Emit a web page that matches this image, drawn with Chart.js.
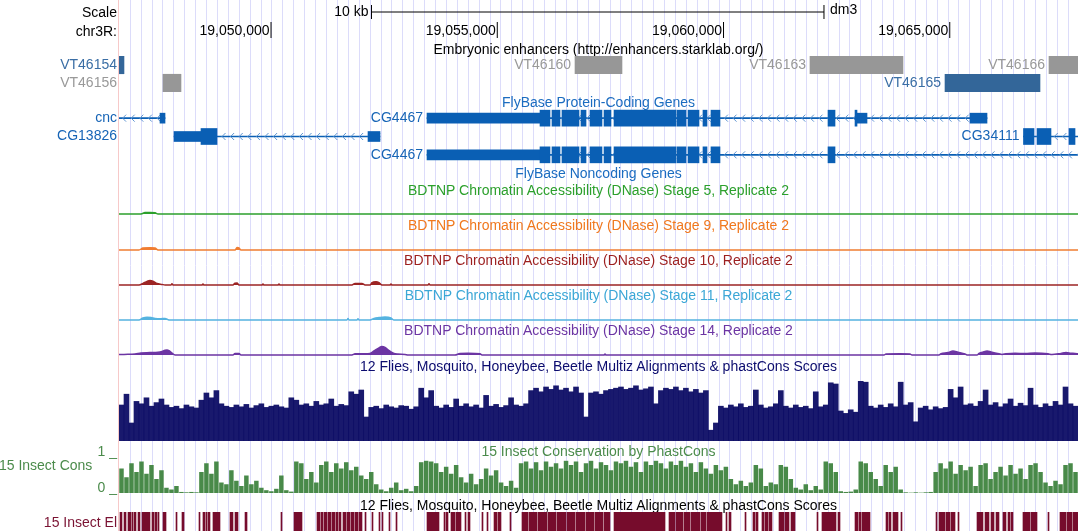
<!DOCTYPE html>
<html>
<head>
<meta charset="utf-8">
<script src="https://cdn.jsdelivr.net/npm/chart.js@4.4.1/dist/chart.umd.min.js"></script>
<style>
  html, body { margin: 0; padding: 0; background: #fff; }
  #page { position: relative; width: 1078px; height: 531px; overflow: hidden;
          font-family: "Liberation Sans", Arial, Helvetica, sans-serif; font-size: 14px; }
  #page canvas { position: absolute; left: 0; }
  .t { position: absolute; line-height: 15px; white-space: nowrap; }
  .title { left: 119px; width: 959px; text-align: center; }
  .left { right: 961px; text-align: right; }
  #edge { position: absolute; left: 118px; top: 0; width: 1px; height: 531px; background: #f7c9c9; }
</style>
</head>
<body>
<div id="page">
  <canvas id="grid" width="1078" height="531" style="top:0"></canvas>
  <div id="edge"></div>

  <div class="t left" style="top:5.4px">Scale</div>
  <div class="t left" style="top:23.6px">chr3R:</div>
  <canvas id="ruler" width="1078" height="36" style="top:3px"></canvas>

  <div class="t title" style="top:42.1px;color:#000">Embryonic enhancers (http://enhancers.starklab.org/)</div>
  <canvas id="enhancers" width="1078" height="36" style="top:56px"></canvas>

  <div class="t title" style="top:95.1px;color:#1b6cc0">FlyBase Protein-Coding Genes</div>
  <canvas id="genes" width="1078" height="55" style="top:109px"></canvas>
  <div class="t title" style="top:166.3px;color:#1b6cc0">FlyBase Noncoding Genes</div>

  <div class="t title" style="top:182.9px;color:#2ca02c">BDTNP Chromatin Accessibility (DNase) Stage 5, Replicate 2</div>
  <canvas id="dnase5" width="1078" height="22" style="top:193px"></canvas>
  <div class="t title" style="top:217.9px;color:#f0781e">BDTNP Chromatin Accessibility (DNase) Stage 9, Replicate 2</div>
  <canvas id="dnase9" width="1078" height="22" style="top:229px"></canvas>
  <div class="t title" style="top:253.3px;color:#9c1f1f">BDTNP Chromatin Accessibility (DNase) Stage 10, Replicate 2</div>
  <canvas id="dnase10" width="1078" height="22" style="top:264px"></canvas>
  <div class="t title" style="top:287.9px;color:#3ba7d6">BDTNP Chromatin Accessibility (DNase) Stage 11, Replicate 2</div>
  <canvas id="dnase11" width="1078" height="22" style="top:299px"></canvas>
  <div class="t title" style="top:322.9px;color:#6c35a3">BDTNP Chromatin Accessibility (DNase) Stage 14, Replicate 2</div>
  <canvas id="dnase14" width="1078" height="22" style="top:334px"></canvas>

  <div class="t title" style="top:359.3px;color:#0c0c6e">12 Flies, Mosquito, Honeybee, Beetle Multiz Alignments &amp; phastCons Scores</div>
  <canvas id="multiz" width="1078" height="60" style="top:381px"></canvas>

  <div class="t title" style="top:444.3px;color:#4b8b4b">15 Insect Conservation by PhastCons</div>
  <div class="t" style="top:457.9px;right:985.7px;text-align:right;color:#4b8b4b">15 Insect Cons</div>
  <div class="t left" style="top:444.3px;color:#4b8b4b">1 _</div>
  <div class="t left" style="top:480.1px;color:#4b8b4b">0 _</div>
  <canvas id="cons" width="1078" height="35" style="top:458px"></canvas>

  <div class="t title" style="top:497.6px;color:#000">12 Flies, Mosquito, Honeybee, Beetle Multiz Alignments &amp; phastCons Scores</div>
  <div class="t left" style="top:514.9px;color:#7a1232">15 Insect El</div>
  <canvas id="elements" width="1078" height="19" style="top:512px"></canvas>
</div>

<script>
const FONT = '14px "Liberation Sans", Arial, sans-serif';
const LEFT = 119;

// window shown on chr3R; feature positions below are bp offsets from viewStart
const viewStart = 19046640;
const viewEnd = 19067834;

const rulerTicks = [19050000, 19055000, 19060000, 19065000];
const scaleBar = [19052220, 19062220];

const enhancerNames = ["VT46154", "VT46156", "VT46160", "VT46163", "VT46165", "VT46166"];
const enhancerRow = ["r1", "r2", "r1", "r1", "r2", "r1"];
const enhancerStart = [-90, 972, 10078, 15271, 18255, 20553];
const enhancerEnd = [110, 1370, 11116, 17326, 20354, 22400];
const enhancerActive = [true, false, false, false, true, false];

const geneNames = ["cnc", "CG4467", "CG13826", "CG34111", "CG4467"];
const geneRow = ["g1", "g1", "g2", "g2", "g3"];
const geneSpan = [[-400, 1017], [6807, 19183], [1216, 5768], [19989, 21700], [6807, 21700]];
// [gene index, start, end]
const utrBlocks = [
  [0, 906, 1017], [1, 6807, 9304], [1, 16310, 16531], [1, 18807, 19183],
  [2, 1216, 1812], [2, 5503, 5768], [4, 6807, 9304],
];
const cdsBlocks = [
  [1, 9304, 9525], [1, 9569, 9746], [1, 9790, 10166], [1, 10210, 10321], [1, 10409, 10674],
  [1, 10719, 10873], [1, 10940, 12310], [1, 12332, 12531], [1, 12575, 12818], [1, 12906, 12995],
  [1, 13083, 13282], [1, 15669, 15824], [1, 16266, 16310],
  [2, 1812, 2166],
  [3, 19989, 20222], [3, 20288, 20597], [3, 20995, 21128],
  [4, 9304, 9525], [4, 9569, 9746], [4, 9790, 10166], [4, 10210, 10321], [4, 10409, 10674],
  [4, 10719, 10873], [4, 10940, 12310], [4, 12332, 12531], [4, 12575, 12818], [4, 12906, 12995],
  [4, 13083, 13282], [4, 15669, 15824],
];

// [offset, signal]
const dnaseStage5 = [[0, 0], [486, 0], [575, 0.7], [685, 0.8], [796, 0.6], [862, 0], [21194, 0]];
const dnaseStage9 = [[0, 0], [442, 0], [530, 1], [685, 1.1], [796, 1], [862, 0],
  [2564, 0], [2608, 1.2], [2652, 1], [2696, 0], [21194, 0]];
const dnaseStage10 = [[0, 0], [442, 0], [530, 0.8], [619, 1.8], [685, 2.2], [751, 1.9], [840, 0.8],
  [950, 0.3], [1017, 0], [1149, 0], [1171, 0.6], [1193, 0], [1834, 0], [1856, 0.5], [1878, 0],
  [2519, 0], [2564, 0.9], [2608, 1], [2652, 0], [3160, 0], [3182, 0.5], [3204, 0],
  [3514, 0], [3536, 0.5], [3558, 0], [5149, 0], [5216, 0.8], [5370, 0.8], [5437, 0],
  [5547, 0], [5591, 1.2], [5680, 1.6], [5746, 1.2], [5812, 0], [5989, 0], [6011, 0.5], [6033, 0],
  [6829, 0], [6851, 0.6], [6873, 0], [21194, 0]];
const dnaseStage11 = [[0, 0], [442, 0], [530, 1], [619, 1.4], [707, 1.2], [796, 0.8], [906, 0.6],
  [1017, 0.8], [1105, 0], [5039, 0], [5061, 0.7], [5083, 0], [5260, 0], [5282, 0.6], [5304, 0],
  [5547, 0], [5636, 0.8], [5746, 1.2], [5879, 1.5], [6011, 1], [6078, 0], [21194, 0]];
const dnaseStage14 = [[0, 0.2], [111, 0.3], [354, 0.5], [486, 1], [685, 1.2], [862, 1.4], [950, 1.8],
  [1017, 2.4], [1061, 2.5], [1105, 2.2], [1171, 1], [1238, 0], [2519, 0], [2564, 0.8], [2652, 0.8],
  [2696, 0], [5149, 0], [5216, 0.6], [5437, 0.6], [5547, 0.8], [5636, 2], [5746, 3.6], [5812, 4.2],
  [5879, 3.8], [5945, 2.6], [6011, 1.6], [6078, 0.8], [6166, 0.5], [6321, 0.3], [6387, 0],
  [7426, 0], [7536, 0.8], [7713, 0.9], [7978, 0.6], [8022, 0], [10719, 0], [10741, 0.5], [10763, 0],
  [16907, 0], [16951, 0.5], [17260, 0.6], [17481, 0.5], [17525, 0], [18122, 0], [18166, 0.6],
  [18321, 1.2], [18431, 2], [18542, 1.4], [18697, 0.5], [18741, 0], [18962, 0], [19006, 0.8],
  [19116, 1.6], [19183, 2], [19271, 1.5], [19448, 0.6], [19514, 0.3], [19603, 0.6], [19802, 0.9],
  [20023, 0.7], [20244, 1], [20531, 0.6], [20619, 0.2], [20818, 0.8], [20929, 1.2], [21039, 0.9],
  [21128, 0.8], [21194, 0.6]];

// one value per ~110 bp bin across the window
const multizValues = [
  60, 78, 30, 66, 62, 72, 58, 64, 70, 60, 56, 58, 54, 60, 57, 55, 68, 80, 72, 84,
  62, 58, 56, 60, 57, 61, 55, 59, 62, 56, 58, 60, 57, 55, 72, 68, 60, 62, 58, 66,
  60, 62, 70, 58, 61, 59, 82, 78, 85, 40, 56, 58, 54, 60, 57, 55, 59, 58, 53, 57,
  88, 72, 84, 58, 55, 60, 56, 70, 58, 62, 57, 60, 55, 76, 58, 61, 56, 59, 72, 60,
  58, 62, 84, 88, 82, 90, 86, 92, 85, 88, 82, 90, 80, 40, 80, 82, 78, 84, 86, 88,
  90, 86, 88, 92, 85, 87, 90, 62, 84, 88, 86, 90, 84, 88, 82, 86, 80, 84, 18, 30,
  58, 55, 60, 57, 62, 56, 58, 85, 60, 55, 57, 62, 84, 58, 55, 60, 56, 58, 54, 82,
  57, 60, 97, 95, 50, 46, 52, 48, 100, 98, 58, 55, 60, 56, 62, 57, 98, 60, 64, 32,
  55, 58, 52, 57, 54, 56, 86, 72, 90, 60, 62, 58, 66, 85, 60, 64, 57, 62, 70, 58,
  63, 59, 88, 60, 56, 62, 58, 66, 60, 90, 62, 58,
];
const phastConsValues = [
  70, 45, 85, 60, 90, 55, 80, 40, 65, 15, 10, 20, 3, 2, 3, 2, 60, 85, 55, 90,
  30, 25, 65, 35, 20, 50, 25, 35, 15, 8, 5, 12, 50, 8, 4, 90, 85, 40, 60, 30,
  80, 90, 60, 85, 70, 88, 65, 75, 50, 40, 60, 25, 10, 5, 15, 30, 8, 12, 5, 20,
  88, 92, 90, 85, 60, 75, 55, 80, 45, 30, 55, 25, 40, 70, 50, 65, 30, 20, 35, 15,
  85, 90, 70, 88, 65, 90, 75, 85, 70, 92, 80, 90, 60, 85, 92, 70, 88, 80, 65, 90,
  85, 92, 75, 88, 60, 90, 80, 92, 85, 70, 90, 80, 92, 75, 85, 60, 88, 70, 55, 80,
  65, 75, 40, 25, 35, 20, 30, 80, 70, 20, 30, 25, 80, 75, 40, 15, 10, 25, 8, 20,
  10, 90, 85, 60, 5, 3, 4, 10, 90, 85, 60, 40, 20, 80, 60, 75, 10, 2, 1, 2,
  1, 2, 3, 60, 85, 70, 90, 55, 80, 65, 75, 20, 80, 85, 40, 60, 75, 50, 80, 55,
  70, 40, 80, 85, 60, 30, 20, 35, 25, 80, 85, 60,
];

// conserved elements [start, end]
const insectElements = [
  [22, 66], [111, 155], [199, 265], [287, 309], [332, 376], [420, 464], [508, 685], [729, 774], [796, 840], [862, 884],
  [972, 1039], [1260, 1282], [1392, 1437], [1768, 1790], [1856, 1901], [1923, 1945], [1967, 2011], [2077, 2232], [2453, 2519], [2564, 2630],
  [2785, 2829], [3580, 3602], [3868, 4044], [4376, 4442], [4464, 4508], [4531, 4597], [4619, 4685], [4707, 4774], [4796, 4840], [4862, 4906],
  [4950, 5017], [5039, 5105], [5127, 5194], [5216, 5282], [5304, 5370], [5437, 5459], [5591, 5613], [5746, 5768], [5812, 5834], [5967, 5989],
  [6122, 6144], [6807, 7072], [7183, 7205], [7227, 7271], [7337, 7426], [7448, 7558], [7647, 7669], [7713, 7757], [8022, 8044], [8133, 8155],
  [8288, 8354], [8376, 8442], [8641, 8663], [8906, 9039], [9061, 9238], [9260, 9459], [9481, 9658], [9680, 9879], [9901, 10078], [10100, 10299],
  [10321, 10498], [10520, 10696], [10719, 10851], [10940, 12067], [12155, 12288], [12310, 12464], [12487, 12619], [12641, 12840], [12862, 12973], [12995, 13326],
  [13415, 13437], [13481, 13525], [13835, 13857], [14011, 14056], [14078, 14122], [14210, 14255], [14277, 14343], [14365, 14431], [14586, 14697], [14719, 14807],
  [14851, 14940], [15426, 15448], [15536, 15846], [15890, 15934], [16266, 16332], [16354, 16398], [16420, 16597], [16951, 16995], [17017, 17061], [17105, 17216],
  [17282, 17304], [18056, 18078], [18122, 18255], [18277, 18365], [18387, 18476], [18542, 18564], [18962, 19094], [19139, 19227], [19271, 19338], [19382, 19448],
  [19536, 19603], [19647, 19691], [19713, 19757], [19978, 20133], [20155, 20288], [20531, 20553], [20796, 20929], [20951, 21061], [21083, 21194],
];

const GENE_BLUE = "#0a5fb4";

function baseOptions(scales, indexAxis) {
  return {
    indexAxis: indexAxis || "x",
    responsive: false,
    animation: false,
    events: [],
    layout: { autoPadding: false, padding: { left: LEFT, right: 0, top: 0, bottom: 0 } },
    plugins: { legend: { display: false }, tooltip: { enabled: false } },
    scales: scales,
  };
}
const xRange = () => ({ type: "linear", min: viewStart, max: viewEnd, display: false });

// labels sit left of a feature, or in the left margin when they don't fit
function labelPlugin(getItems) {
  return {
    id: "featureLabels",
    afterDatasetsDraw(chart) {
      const ctx = chart.ctx;
      const area = chart.chartArea;
      ctx.save();
      ctx.font = FONT;
      ctx.textAlign = "right";
      ctx.textBaseline = "middle";
      getItems(chart).forEach((it) => {
        let right = it.x - 4;
        if (right - ctx.measureText(it.text).width < area.left) right = area.left - 2;
        ctx.fillStyle = it.color;
        ctx.fillText(it.text, right, it.y);
      });
      ctx.restore();
    },
  };
}

// guide lines
const guideValues = [];
for (let v = viewStart + 248; v <= viewEnd; v += 241) guideValues.push(v);
new Chart(document.getElementById("grid"), {
  type: "scatter",
  data: { datasets: [] },
  options: baseOptions({
    x: {
      type: "linear", min: viewStart, max: viewEnd,
      afterBuildTicks: (axis) => { axis.ticks = guideValues.map((v) => ({ value: v })); },
      ticks: { display: false },
      grid: { color: "#dcdcfa", lineWidth: 1, drawTicks: false },
      border: { display: false },
    },
    y: { display: false, min: 0, max: 1 },
  }),
});

// ruler
new Chart(document.getElementById("ruler"), {
  type: "scatter",
  data: {
    datasets: [
      {
        data: scaleBar.map((v) => ({ x: v, y: "bar" })),
        showLine: true, borderColor: "#000", borderWidth: 1,
        pointStyle: "line", rotation: 90, pointRadius: 7, pointBorderColor: "#000", pointBorderWidth: 1,
      },
      {
        data: rulerTicks.map((v) => ({ x: v, y: "pos" })),
        pointStyle: "line", rotation: 90, pointRadius: 8, pointBorderColor: "#000", pointBorderWidth: 1,
      },
    ],
  },
  options: baseOptions({ x: xRange(), y: { type: "category", labels: ["bar", "pos"], offset: true, display: false } }),
  plugins: [{
    id: "rulerLabels",
    afterDatasetsDraw(chart) {
      const ctx = chart.ctx, x = chart.scales.x, y = chart.scales.y;
      ctx.save();
      ctx.font = FONT;
      ctx.fillStyle = "#000";
      ctx.textBaseline = "middle";
      ctx.textAlign = "right";
      rulerTicks.forEach((v) => ctx.fillText(v.toLocaleString("en-US"), x.getPixelForValue(v) - 1.5, y.getPixelForValue(1) + 1));
      const yb = y.getPixelForValue(0);
      ctx.fillText((scaleBar[1] - scaleBar[0]) / 1000 + " kb", x.getPixelForValue(scaleBar[0]) - 3, yb);
      ctx.textAlign = "left";
      ctx.fillText("dm3", x.getPixelForValue(scaleBar[1]) + 6, yb - 2);
      ctx.restore();
    },
  }],
});

// enhancers
const enhancerColor = (i) => (enhancerActive[i] ? "#336699" : "#979797");
new Chart(document.getElementById("enhancers"), {
  type: "bar",
  data: {
    datasets: [{
      data: enhancerNames.map((n, i) => ({ y: enhancerRow[i], x: [viewStart + enhancerStart[i], viewStart + enhancerEnd[i]] })),
      backgroundColor: (c) => enhancerColor(c.dataIndex),
      barThickness: 17.5,
    }],
  },
  options: baseOptions({ x: xRange(), y: { type: "category", labels: ["r1", "r2"], offset: true, display: false } }, "y"),
  plugins: [labelPlugin((chart) => chart.getDatasetMeta(0).data.map((bar, i) => ({
    text: enhancerNames[i], x: Math.min(bar.x, bar.base), y: bar.y,
    color: enhancerActive[i] ? "#3a6ea5" : "#999999",
  })))],
});

// genes
new Chart(document.getElementById("genes"), {
  type: "bar",
  data: {
    datasets: [
      {
        label: "cds", order: 0, grouped: false, barThickness: 16, backgroundColor: GENE_BLUE,
        data: cdsBlocks.map(([g, s, e]) => ({ y: geneRow[g], x: [viewStart + s, viewStart + e] })),
      },
      {
        label: "utr", order: 1, grouped: false, barThickness: 10, backgroundColor: GENE_BLUE,
        data: utrBlocks.map(([g, s, e]) => ({ y: geneRow[g], x: [viewStart + s, viewStart + e] })),
      },
      {
        label: "span", order: 2, grouped: false, barThickness: 1, backgroundColor: GENE_BLUE,
        data: geneSpan.map((sp, g) => ({ y: geneRow[g], x: [viewStart + sp[0], viewStart + sp[1]] })),
      },
    ],
  },
  options: baseOptions({ x: xRange(), y: { type: "category", labels: ["g1", "g2", "g3"], offset: true, display: false } }, "y"),
  plugins: [
    {
      id: "chevrons",
      afterDatasetDraw(chart, args) {
        if (chart.data.datasets[args.index].label !== "span") return;
        const ctx = chart.ctx, area = chart.chartArea;
        ctx.save();
        ctx.beginPath();
        ctx.rect(area.left, area.top, area.right - area.left, area.bottom - area.top);
        ctx.clip();
        ctx.strokeStyle = "#5f95d2";
        ctx.lineWidth = 1;
        args.meta.data.forEach((bar) => {
          const l = Math.max(Math.min(bar.x, bar.base), area.left - 10);
          const r = Math.min(Math.max(bar.x, bar.base), area.right + 10);
          for (let px = l + 5; px < r - 3; px += 8.6) {
            ctx.beginPath();
            ctx.moveTo(px + 3.5, bar.y - 3.5);
            ctx.lineTo(px, bar.y);
            ctx.lineTo(px + 3.5, bar.y + 3.5);
            ctx.stroke();
          }
        });
        ctx.restore();
      },
    },
    labelPlugin((chart) => geneNames.map((n, i) => ({
      text: n,
      x: chart.scales.x.getPixelForValue(viewStart + geneSpan[i][0]),
      y: chart.scales.y.getPixelForValue(["g1", "g2", "g3"].indexOf(geneRow[i])),
      color: "#1664b6",
    }))),
  ],
});

// DNase tracks
function dnaseChart(id, points, color) {
  new Chart(document.getElementById(id), {
    type: "line",
    data: {
      datasets: [{
        data: points.map(([o, v]) => ({ x: viewStart + o, y: v })),
        borderColor: color, backgroundColor: color, borderWidth: 1.5,
        pointRadius: 0, fill: "origin", cubicInterpolationMode: "monotone",
      }],
    },
    options: baseOptions({ x: xRange(), y: { min: -0.5, max: 10.5, display: false } }),
  });
}
dnaseChart("dnase5", dnaseStage5, "#2ca02c");
dnaseChart("dnase9", dnaseStage9, "#f07d32");
dnaseChart("dnase10", dnaseStage10, "#9c2424");
dnaseChart("dnase11", dnaseStage11, "#55b3e0");
dnaseChart("dnase14", dnaseStage14, "#6c35a3");

// wiggles
function wiggleChart(id, values, color, pct) {
  const bin = (viewEnd - viewStart) / values.length;
  new Chart(document.getElementById(id), {
    type: "bar",
    data: {
      labels: values.map((_, i) => viewStart + Math.round(i * bin)),
      datasets: [{ data: values, backgroundColor: color, barPercentage: pct, categoryPercentage: 1 }],
    },
    options: baseOptions({ x: { type: "category", display: false }, y: { min: 0, max: 100, display: false } }),
  });
}
wiggleChart("multiz", multizValues, "rgba(8,8,98,0.93)", 1);
wiggleChart("cons", phastConsValues, "rgba(58,128,58,0.92)", 0.9);

// conserved elements
new Chart(document.getElementById("elements"), {
  type: "bar",
  data: {
    datasets: [{
      data: insectElements.map(([s, e]) => ({ y: "el", x: [viewStart + s, viewStart + e] })),
      backgroundColor: "#760c2c", barPercentage: 1, categoryPercentage: 1,
    }],
  },
  options: baseOptions({ x: xRange(), y: { type: "category", labels: ["el"], offset: true, display: false } }, "y"),
});
</script>
</body>
</html>
